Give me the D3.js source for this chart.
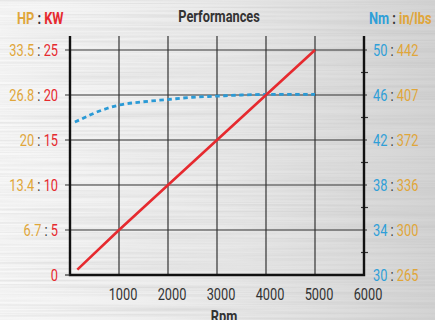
<!DOCTYPE html>
<html>
<head>
<meta charset="utf-8">
<style>
  body{ margin:0; }
  svg text{ font-family:"Roboto","DejaVu Sans Condensed",sans-serif; }
  .grid{ stroke:#333; stroke-width:1.2; }
  .axis{ stroke:#111; stroke-width:2.4; fill:none; }
  .gold{ fill:#e0a63a; }
  .red{ fill:#e62a2f; }
  .blue{ fill:#2f9fd8; }
  .sep{ fill:#333; }
</style>
</head>
<body>
<script src="https://cdn.jsdelivr.net/npm/d3@7"></script>
<script>
var width = 435, height = 320;

// data
var rpmTicks = [1000, 2000, 3000, 4000, 5000, 6000];
var kwTicks = [0, 5, 10, 15, 20, 25];
var hpLabels = ["", "6.7", "13.4", "20", "26.8", "33.5"];
var nmTicks = [30, 34, 38, 42, 46, 50];
var inlbsLabels = ["265", "300", "336", "372", "407", "442"];

var powerRpm = [150, 1000, 2000, 3000, 4000, 5000];
var powerKw  = [0.6, 5, 10, 15, 20, 25];

var torqueRpm = [100, 300, 500, 750, 1000, 1500, 2000, 2500, 3000, 3500, 4000, 4500, 5000];
var torqueNm  = [43.6, 44.0, 44.4, 44.8, 45.1, 45.4, 45.6, 45.8, 45.9, 46.0, 46.05, 46.05, 46.05];

var pLeft = 70, pRight = 364, pTop = 36, pBottom = 275;
var squeeze = 0.8; // condensed look

var x = d3.scaleLinear().domain([0, 6000]).range([pLeft, pRight]);
var yKw = d3.scaleLinear().domain([0, 25]).range([pBottom, 50]);
var yNm = d3.scaleLinear().domain([30, 50]).range([pBottom, 50]);

var svg = d3.select("body").append("svg")
    .attr("width", width)
    .attr("height", height);

// brushed metal background
var defs = svg.append("defs");
var grad = defs.append("linearGradient").attr("id", "bg").attr("x1", 0).attr("x2", 1).attr("y1", 0).attr("y2", 0);
grad.append("stop").attr("offset", 0).attr("stop-color", "#f8f8f8");
grad.append("stop").attr("offset", 0.55).attr("stop-color", "#e8e8e8");
grad.append("stop").attr("offset", 1).attr("stop-color", "#d3d3d3");
var f = defs.append("filter").attr("id", "brush").attr("x", 0).attr("y", 0).attr("width", "100%").attr("height", "100%");
f.append("feTurbulence").attr("type", "fractalNoise").attr("baseFrequency", "0.004 0.45").attr("numOctaves", 2).attr("seed", 4);
f.append("feColorMatrix").attr("type", "matrix")
    .attr("values", "0 0 0 0 0.45  0 0 0 0 0.45  0 0 0 0 0.45  0.6 0 0 0 -0.22");

svg.append("rect").attr("width", width).attr("height", height).attr("fill", "url(#bg)");
svg.append("rect").attr("width", width).attr("height", height).attr("filter", "url(#brush)");

// text helper: parts = [[class, text], ...]
function label(px, py, anchor, parts, weight) {
    var t = svg.append("g")
        .attr("transform", "translate(" + px + "," + py + ") scale(" + squeeze + ",1)")
        .append("text")
        .attr("text-anchor", anchor)
        .style("font-size", "16px")
        .style("font-weight", weight || "normal");
    parts.forEach(function(p) {
        t.append("tspan").attr("class", p[0]).text(p[1]);
    });
    return t;
}

// grid
svg.selectAll(".vgrid").data(rpmTicks.slice(0, 5)).enter().append("line")
    .attr("class", "grid")
    .attr("x1", d => x(d)).attr("x2", d => x(d))
    .attr("y1", pTop).attr("y2", pBottom);
svg.selectAll(".hgrid").data(kwTicks.slice(1)).enter().append("line")
    .attr("class", "grid")
    .attr("x1", pLeft - 5).attr("x2", pRight + 3)
    .attr("y1", d => yKw(d)).attr("y2", d => yKw(d));

// right minor ticks
svg.selectAll(".minor").data(d3.range(32, 50, 4)).enter().append("line")
    .attr("class", "grid")
    .attr("x1", pRight - 3).attr("x2", pRight + 4)
    .attr("y1", d => yNm(d)).attr("y2", d => yNm(d));

// axes
svg.append("path").attr("class", "axis")
    .attr("d", "M" + pLeft + "," + pTop + "V" + pBottom + "H" + pRight + "V" + pTop);
svg.append("line").attr("class", "grid")
    .attr("x1", pLeft - 5).attr("x2", pLeft).attr("y1", pBottom).attr("y2", pBottom);

// series
var line = d3.line().curve(d3.curveMonotoneX);
var torque = torqueRpm.map((r, i) => [x(r), yNm(torqueNm[i])]);
svg.append("path")
    .attr("d", line(torque))
    .attr("fill", "none")
    .attr("stroke", "#2a9ad6")
    .attr("stroke-width", 2.8)
    .attr("stroke-dasharray", "4.5,3.5");
var power = powerRpm.map((r, i) => [x(r), yKw(powerKw[i])]);
svg.append("path")
    .attr("d", d3.line()(power))
    .attr("fill", "none")
    .attr("stroke", "#e62a2f")
    .attr("stroke-width", 2.6);

// left labels
kwTicks.forEach(function(d, i) {
    var parts = hpLabels[i] ? [["gold", hpLabels[i]], ["sep", " : "], ["red", d]] : [["red", d]];
    label(58, yKw(d) + 6, "end", parts);
});

// right labels
nmTicks.forEach(function(d, i) {
    label(373, yNm(d) + 6, "start", [["blue", d], ["sep", " : "], ["gold", inlbsLabels[i]]]);
});

// bottom labels
rpmTicks.forEach(function(d) {
    label(x(d) + 4, 300, "middle", [["sep", d]]).select("tspan").attr("fill", "#222");
});
label(224, 322, "middle", [["sep", "Rpm"]], "bold");

// headers
label(219, 22, "middle", [["sep", "Performances"]], "bold");
label(17, 24, "start", [["gold", "HP"], ["sep", " : "], ["red", "KW"]], "bold");
label(369, 24, "start", [["blue", "Nm"], ["sep", " : "], ["gold", "in/lbs"]], "bold");
</script>
</body>
</html>
